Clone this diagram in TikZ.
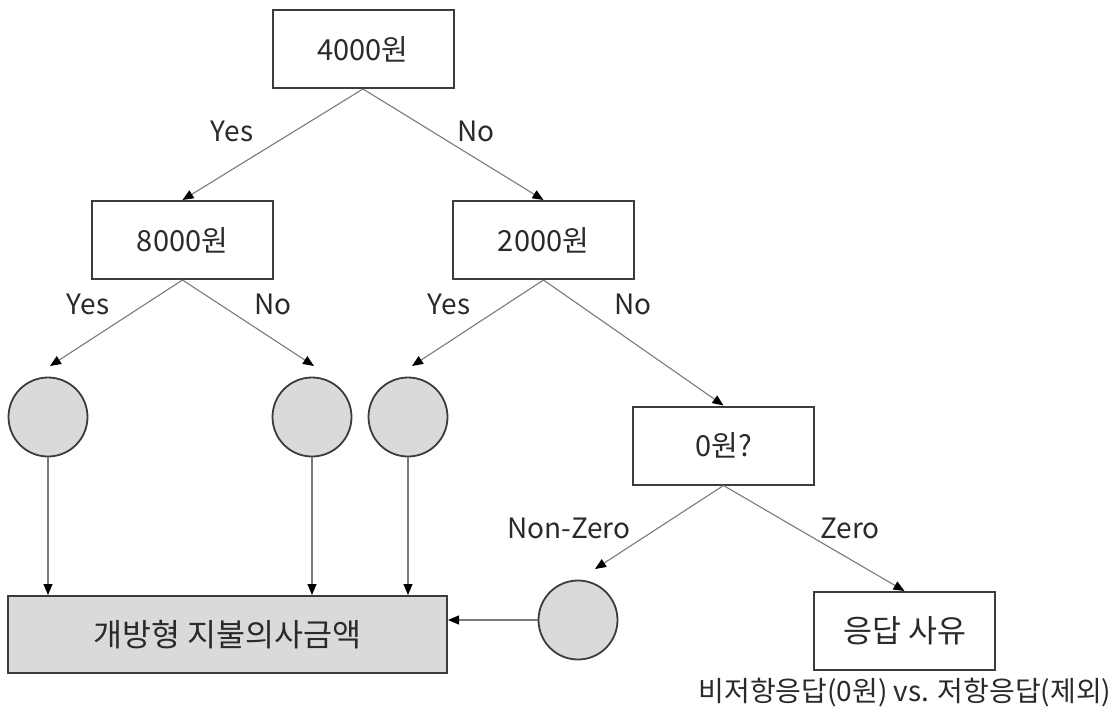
\documentclass[tikz,border=0pt]{standalone}
\usepackage{fontspec}
\setmainfont{Noto Sans CJK KR}
\usetikzlibrary{arrows.meta}

\definecolor{edgegray}{HTML}{3C3C3C}
\definecolor{linegray}{HTML}{7A7A7A}
\definecolor{fillgray}{HTML}{DADADA}
\definecolor{inkgray}{HTML}{2A2A2A}

\tikzset{
  box/.style={draw=edgegray, line width=2pt, minimum width=181pt, minimum height=78pt,
    inner sep=0pt, text=inkgray, font=\fontsize{29}{34}\selectfont},
  bigtext/.style={font=\fontsize{31.5}{36}\selectfont},
  sumbox/.style={box, bigtext, fill=fillgray, minimum width=439pt, minimum height=77pt},
  leaf/.style={circle, draw=edgegray, line width=1.8pt, fill=fillgray,
    minimum size=79pt, inner sep=0pt},
  conn/.style={draw=linegray, line width=1.1pt,
    -{Triangle[length=11pt,width=9pt,color=black]}},
  lbl/.style={inner sep=0pt, text=inkgray, font=\fontsize{28}{32}\selectfont},
}

\begin{document}
\begin{tikzpicture}[x=1pt, y=-1pt]
  \useasboundingbox (0,0) rectangle (1115,712);

  % decision boxes
  \node[box] (q4000) at (363,49) {4000원};
  \node[box] (q8000) at (182.5,240) {8000원};
  \node[box] (q2000) at (543.5,240) {2000원};
  \node[box] (qzero) at (723.5,445.5) {0원?};
  \node[box, bigtext] (reason) at (904.5,631) {응답 사유};
  \node[sumbox] (wtp) at (227.5,634.5) {개방형 지불의사금액};

  % terminal circles
  \node[leaf] (c1) at (48,417) {};
  \node[leaf] (c2) at (312,417) {};
  \node[leaf] (c3) at (408,417) {};
  \node[leaf] (c4) at (578,620) {};

  % arrow tips just above the circles
  \coordinate (t1) at (50,366);
  \coordinate (t2) at (314,366);
  \coordinate (t3) at (412,366);
  \coordinate (t4) at (595,569);

  % branches
  \draw[conn] (q4000.south) -- (q8000.north);
  \draw[conn] (q4000.south) -- (q2000.north);
  \draw[conn] (q8000.south) -- (t1);
  \draw[conn] (q8000.south) -- (t2);
  \draw[conn] (q2000.south) -- (t3);
  \draw[conn] (q2000.south) -- (qzero.north);
  \draw[conn] (qzero.south) -- (t4);
  \draw[conn] (qzero.south) -- (reason.north);

  % circles into the open-ended amount box
  \draw[conn] (c1.south) -- (c1.south |- wtp.north);
  \draw[conn] (c2.south) -- (c2.south |- wtp.north);
  \draw[conn] (c3.south) -- (c3.south |- wtp.north);
  \draw[conn] (c4.west) -- (c4.west -| wtp.east);

  % branch labels
  \node[lbl] (l1) at (232,131) {Yes};
  \node[lbl] (l2) at (476,131) {No};
  \node[lbl] (l3) at (88,304) {Yes};
  \node[lbl] (l4) at (273,304) {No};
  \node[lbl] (l5) at (449,304) {Yes};
  \node[lbl] (l6) at (633,304) {No};
  \node[lbl] (l7) at (569,528) {Non-Zero};
  \node[lbl] (l8) at (850,528) {Zero};

  % note under the reason box
  \node[lbl] (note) at (905,693) {비저항응답(0원) vs. 저항응답(제외)};
\end{tikzpicture}
\end{document}
